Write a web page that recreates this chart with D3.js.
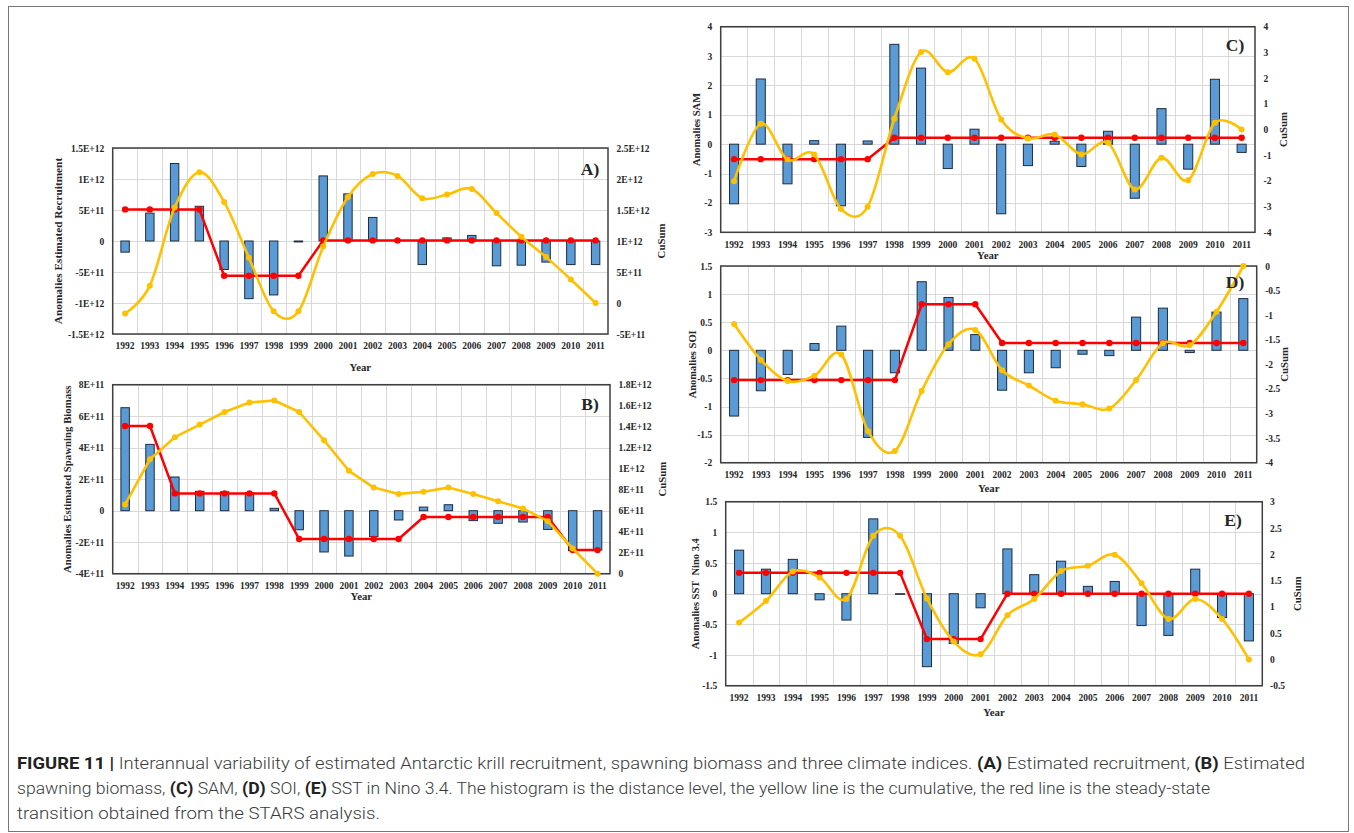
<!DOCTYPE html>
<html><head><meta charset="utf-8">
<script src="https://cdn.jsdelivr.net/npm/d3@7"></script>
<style>body{margin:0;background:#fff} svg{display:block}</style>
</head><body><svg id="c" width="1354" height="833"></svg>
<script>
// ---------- DATA ----------
const years = ["1992","1993","1994","1995","1996","1997","1998","1999","2000","2001","2002","2003","2004","2005","2006","2007","2008","2009","2010","2011"];

const recruitAnom  = [-1.8e11, 4.5e11, 1.25e12, 5.6e11, -4.6e11, -9.3e11, -8.7e11, -1.5e10, 1.05e12, 7.6e11, 3.8e11, 0, -3.8e11, 5e10, 9e10, -4.0e11, -3.9e11, -3.4e11, -3.8e11, -3.8e11];
const recruitShift = [5.1e11, 5.1e11, 5.1e11, 5.1e11, -5.6e11, -5.6e11, -5.6e11, -5.6e11, 1e10, 1e10, 1e10, 1e10, 1e10, 1e10, 1e10, 1e10, 1e10, 1e10, 1e10, 1e10];
const recruitCusum = [-1.7e11, 2.8e11, 1.54e12, 2.11e12, 1.63e12, 7.3e11, -1.35e11, -1.35e11, 9.1e11, 1.71e12, 2.08e12, 2.05e12, 1.69e12, 1.75e12, 1.84e12, 1.45e12, 1.07e12, 7.4e11, 3.8e11, 0];

const biomassAnom  = [6.54e11, 4.21e11, 2.14e11, 1.23e11, 1.2e11, 1.15e11, 1.5e10, -1.21e11, -2.62e11, -2.88e11, -1.65e11, -5.9e10, 2.3e10, 3.8e10, -6.3e10, -8.0e10, -7.2e10, -1.19e11, -2.54e11, -2.5e11];
const biomassShift = [5.38e11, 5.38e11, 1.1e11, 1.1e11, 1.1e11, 1.1e11, 1.1e11, -1.8e11, -1.8e11, -1.8e11, -1.8e11, -1.8e11, -4e10, -4e10, -4e10, -4e10, -4e10, -4e10, -2.5e11, -2.5e11];
const biomassCusum = [6.6e11, 1.09e12, 1.30e12, 1.42e12, 1.54e12, 1.63e12, 1.65e12, 1.54e12, 1.27e12, 9.8e11, 8.2e11, 7.6e11, 7.8e11, 8.2e11, 7.6e11, 6.9e11, 6.2e11, 5.0e11, 2.4e11, 0];

const samAnom  = [-2.03, 2.22, -1.35, 0.12, -2.1, 0.11, 3.4, 2.59, -0.83, 0.51, -2.37, -0.73, 0.1, -0.76, 0.44, -1.84, 1.21, -0.85, 2.21, -0.28];
const samShift = [-0.51, -0.51, -0.51, -0.51, -0.51, -0.51, 0.22, 0.22, 0.22, 0.22, 0.22, 0.22, 0.22, 0.22, 0.22, 0.22, 0.22, 0.22, 0.22, 0.22];
const samCusum = [-2.01, 0.22, -1.17, -0.97, -3.09, -3.01, 0.42, 3.02, 2.23, 2.75, 0.39, -0.35, -0.19, -0.97, -0.52, -2.33, -1.10, -1.97, 0.26, 0];

const soiAnom  = [-1.17, -0.72, -0.43, 0.12, 0.43, -1.55, -0.40, 1.22, 0.94, 0.28, -0.71, -0.40, -0.31, -0.07, -0.095, 0.59, 0.75, -0.04, 0.68, 0.92];
const soiShift = [-0.53, -0.53, -0.53, -0.53, -0.53, -0.53, -0.53, 0.82, 0.82, 0.82, 0.13, 0.13, 0.13, 0.13, 0.13, 0.13, 0.13, 0.13, 0.13, 0.13];
const soiCusum = [-1.18, -1.91, -2.34, -2.23, -1.80, -3.36, -3.76, -2.54, -1.59, -1.30, -2.12, -2.43, -2.74, -2.81, -2.90, -2.32, -1.57, -1.61, -0.93, 0];

const sstAnom  = [0.71, 0.40, 0.56, -0.10, -0.43, 1.22, -0.01, -1.19, -0.81, -0.23, 0.73, 0.31, 0.53, 0.12, 0.20, -0.52, -0.68, 0.40, -0.39, -0.77];
const sstShift = [0.34, 0.34, 0.34, 0.34, 0.34, 0.34, 0.34, -0.74, -0.74, -0.74, 0, 0, 0, 0, 0, 0, 0, 0, 0, 0];
const sstCusum = [0.70, 1.11, 1.67, 1.56, 1.15, 2.35, 2.35, 1.16, 0.34, 0.10, 0.84, 1.15, 1.68, 1.78, 1.99, 1.45, 0.77, 1.15, 0.77, 0];

// tick values and labels
const aLeftTicks  = [-1.5e12, -1e12, -5e11, 0, 5e11, 1e12, 1.5e12];
const aLeftLabels = ["-1.5E+12", "-1E+12", "-5E+11", "0", "5E+11", "1E+12", "1.5E+12"];
const aRightTicks  = [-5e11, 0, 5e11, 1e12, 1.5e12, 2e12, 2.5e12];
const aRightLabels = ["-5E+11", "0", "5E+11", "1E+12", "1.5E+12", "2E+12", "2.5E+12"];
const bLeftTicks  = [-4e11, -2e11, 0, 2e11, 4e11, 6e11, 8e11];
const bLeftLabels = ["-4E+11", "-2E+11", "0", "2E+11", "4E+11", "6E+11", "8E+11"];
const bRightTicks  = [0, 2e11, 4e11, 6e11, 8e11, 1e12, 1.2e12, 1.4e12, 1.6e12, 1.8e12];
const bRightLabels = ["0", "2E+11", "4E+11", "6E+11", "8E+11", "1E+12", "1.2E+12", "1.4E+12", "1.6E+12", "1.8E+12"];
const cLeftTicks  = [-3, -2, -1, 0, 1, 2, 3, 4];
const cLeftLabels = ["-3", "-2", "-1", "0", "1", "2", "3", "4"];
const cRightTicks  = [-4, -3, -2, -1, 0, 1, 2, 3, 4];
const cRightLabels = ["-4", "-3", "-2", "-1", "0", "1", "2", "3", "4"];
const dLeftTicks  = [-2, -1.5, -1, -0.5, 0, 0.5, 1, 1.5];
const dLeftLabels = ["-2", "-1.5", "-1", "-0.5", "0", "0.5", "1", "1.5"];
const dRightTicks  = [-4, -3.5, -3, -2.5, -2, -1.5, -1, -0.5, 0];
const dRightLabels = ["-4", "-3.5", "-3", "-2.5", "-2", "-1.5", "-1", "-0.5", "0"];
const eLeftTicks  = [-1.5, -1, -0.5, 0, 0.5, 1, 1.5];
const eLeftLabels = ["-1.5", "-1", "-0.5", "0", "0.5", "1", "1.5"];
const eRightTicks  = [-0.5, 0, 0.5, 1, 1.5, 2, 2.5, 3];
const eRightLabels = ["-0.5", "0", "0.5", "1", "1.5", "2", "2.5", "3"];

// ---------- DRAW ----------
const svg = d3.select("#c");
const SERIF = "'Liberation Serif','Times New Roman',serif";

// figure frame
svg.append("rect").attr("x", 8.5).attr("y", 6.5).attr("width", 1340).attr("height", 825)
  .attr("fill", "none").attr("stroke", "#777").attr("stroke-width", 1);

function panel(c) {
  const g = svg.append("g");
  const x = d3.scaleBand().domain(years).range([c.x0, c.x1]).padding(0);
  const yL = d3.scaleLinear().domain([c.leftTicks[0], c.leftTicks[c.leftTicks.length - 1]]).range([c.y1, c.y0]);
  const yR = d3.scaleLinear().domain([c.rightTicks[0], c.rightTicks[c.rightTicks.length - 1]]).range([c.y1, c.y0]);
  const bw = x.bandwidth();
  const cx = d => x(d) + bw / 2;

  // gridlines
  const grid = g.append("g").attr("stroke", "#d9d9d9").attr("stroke-width", 1);
  grid.selectAll(".h").data(c.leftTicks).join("line")
    .attr("x1", c.x0).attr("x2", c.x1)
    .attr("y1", d => Math.round(yL(d)) + 0.5).attr("y2", d => Math.round(yL(d)) + 0.5);
  grid.selectAll(".v").data(years.slice(1)).join("line")
    .attr("x1", d => Math.round(x(d)) + 0.5).attr("x2", d => Math.round(x(d)) + 0.5)
    .attr("y1", c.y0).attr("y2", c.y1);

  // bars
  const barW = bw * 0.34;
  g.append("g").selectAll("rect").data(years).join("rect")
    .attr("x", d => cx(d) - barW / 2)
    .attr("width", barW)
    .attr("y", (d, i) => Math.min(yL(c.anom[i]), yL(0)))
    .attr("height", (d, i) => Math.abs(yL(c.anom[i]) - yL(0)))
    .attr("fill", "#5b9bd5").attr("stroke", "#1e2d40").attr("stroke-width", 1);

  // border
  g.append("rect").attr("x", c.x0).attr("y", c.y0).attr("width", c.x1 - c.x0).attr("height", c.y1 - c.y0)
    .attr("fill", "none").attr("stroke", "#3f3f3f").attr("stroke-width", 1.5);

  // red regime line
  const redLine = d3.line().x((d, i) => cx(years[i])).y(d => yL(d));
  g.append("path").datum(c.shift).attr("d", redLine)
    .attr("fill", "none").attr("stroke", "#ff0000").attr("stroke-width", 2.5).attr("stroke-linejoin", "round");
  g.append("g").selectAll("circle").data(c.shift).join("circle")
    .attr("cx", (d, i) => cx(years[i])).attr("cy", d => yL(d)).attr("r", 3.2).attr("fill", "#ff0000");

  // yellow cusum
  const yelLine = d3.line().x((d, i) => cx(years[i])).y(d => yR(d))
    .curve(c.smooth ? d3.curveCardinal.tension(0) : d3.curveLinear);
  g.append("path").datum(c.cusum).attr("d", yelLine)
    .attr("fill", "none").attr("stroke", "#ffc000").attr("stroke-width", 2.6).attr("stroke-linejoin", "round");
  g.append("g").selectAll("circle").data(c.cusum).join("circle")
    .attr("cx", (d, i) => cx(years[i])).attr("cy", d => yR(d)).attr("r", 3).attr("fill", "#ffc000");

  // axes
  const styleAxis = sel => {
    sel.select(".domain").remove();
    sel.selectAll("text").attr("font-family", SERIF).attr("font-weight", "bold")
      .attr("font-size", 9.5).attr("fill", "#262626");
  };
  g.append("g").attr("transform", `translate(${c.x0},0)`)
    .call(d3.axisLeft(yL).tickValues(c.leftTicks).tickFormat((d, i) => c.leftLabels[i]).tickSize(0).tickPadding(8.5))
    .call(styleAxis);
  g.append("g").attr("transform", `translate(${c.x1},0)`)
    .call(d3.axisRight(yR).tickValues(c.rightTicks).tickFormat((d, i) => c.rightLabels[i]).tickSize(0).tickPadding(c.rpad || 8.5))
    .call(styleAxis);
  g.append("g").attr("transform", `translate(0,${c.y1})`)
    .call(d3.axisBottom(x).tickSize(0).tickPadding(8.6))
    .call(styleAxis);

  const title = (txt, tx, ty, rot, size) => g.append("text")
    .attr("transform", `translate(${tx},${ty}) rotate(${rot})`)
    .attr("text-anchor", "middle").attr("dominant-baseline", "central")
    .attr("font-family", SERIF).attr("font-weight", "bold").attr("font-size", size)
    .attr("fill", "#262626").style("white-space", "pre").text(txt);
  const midY = (c.y0 + c.y1) / 2;
  title(c.leftTitle, c.leftTitleX, midY, -90, c.titleSize || 10.5);
  title("CuSum", c.rightTitleX, midY, -90, 10.8);
  title("Year", (c.x0 + c.x1) / 2, c.yearY, 0, 10.8);
  title(c.tag, c.tagX, c.tagY, 0, 17.5);
}

panel({x0: 112.7, y0: 148, x1: 608, y1: 334,
  leftTicks: aLeftTicks, leftLabels: aLeftLabels, rightTicks: aRightTicks, rightLabels: aRightLabels,
  anom: recruitAnom, shift: recruitShift, cusum: recruitCusum, smooth: true,
  leftTitle: "Anomalies Estimated Recruitment", leftTitleX: 58, rightTitleX: 661, yearY: 366.5,
  tag: "A)", tagX: 590, tagY: 168.5, titleSize: 11.3});

panel({x0: 112.7, y0: 384.7, x1: 610, y1: 573.7,
  leftTicks: bLeftTicks, leftLabels: bLeftLabels, rightTicks: bRightTicks, rightLabels: bRightLabels,
  anom: biomassAnom, shift: biomassShift, cusum: biomassCusum, smooth: false,
  leftTitle: "Anomalies Estimated Spawning Biomass", leftTitleX: 67, rightTitleX: 662, yearY: 596,
  tag: "B)", tagX: 590, tagY: 403.5, titleSize: 10.8});

panel({x0: 720.7, y0: 26.7, x1: 1255, y1: 232.3,
  leftTicks: cLeftTicks, leftLabels: cLeftLabels, rightTicks: cRightTicks, rightLabels: cRightLabels,
  anom: samAnom, shift: samShift, cusum: samCusum, smooth: true,
  leftTitle: "Anomalies SAM", leftTitleX: 696, rightTitleX: 1283, yearY: 255,
  tag: "C)", tagX: 1235, tagY: 45});

panel({x0: 720.7, y0: 266, x1: 1256.7, y1: 462.7,
  leftTicks: dLeftTicks, leftLabels: dLeftLabels, rightTicks: dRightTicks, rightLabels: dRightLabels,
  anom: soiAnom, shift: soiShift, cusum: soiCusum, smooth: true,
  leftTitle: "Anomalies SOI", leftTitleX: 692, rightTitleX: 1284, yearY: 487.5,
  tag: "D)", tagX: 1235, tagY: 282});

panel({x0: 725.7, y0: 501.7, x1: 1262.3, y1: 685.7,
  leftTicks: eLeftTicks, leftLabels: eLeftLabels, rightTicks: eRightTicks, rightLabels: eRightLabels,
  anom: sstAnom, shift: sstShift, cusum: sstCusum, smooth: true,
  leftTitle: "Anomalies SST\u00a0 Nino 3.4", leftTitleX: 695, rightTitleX: 1297, yearY: 711.5,
  tag: "E)", tagX: 1233, tagY: 520, rpad: 7.7});

// ---------- CAPTION ----------
const capLines = [
  {y: 769, len: 1288, parts: [["FIGURE 11 |", true], [" Interannual variability of estimated Antarctic krill recruitment, spawning biomass and three climate indices. ", false], ["(A)", true], [" Estimated recruitment, ", false], ["(B)", true], [" Estimated", false]]},
  {y: 794, len: 1193, parts: [["spawning biomass, ", false], ["(C)", true], [" SAM, ", false], ["(D)", true], [" SOI, ", false], ["(E)", true], [" SST in Nino 3.4. The histogram is the distance level, the yellow line is the cumulative, the red line is the steady-state", false]]},
  {y: 819, len: 363, parts: [["transition obtained from the STARS analysis.", false]]}
];
capLines.forEach(l => {
  const t = svg.append("text").attr("x", 17).attr("y", l.y)
    .attr("font-family", "Roboto, 'Liberation Sans', Arial, sans-serif").attr("font-size", 16.5)
    .attr("fill", "#3a3a3a").style("white-space", "pre")
    .attr("textLength", l.len).attr("lengthAdjust", "spacingAndGlyphs");
  l.parts.forEach(p => t.append("tspan").attr("font-weight", p[1] ? "bold" : 300)
    .attr("fill", p[1] ? "#222" : "#3a3a3a").text(p[0]));
});
</script>
</body></html>
